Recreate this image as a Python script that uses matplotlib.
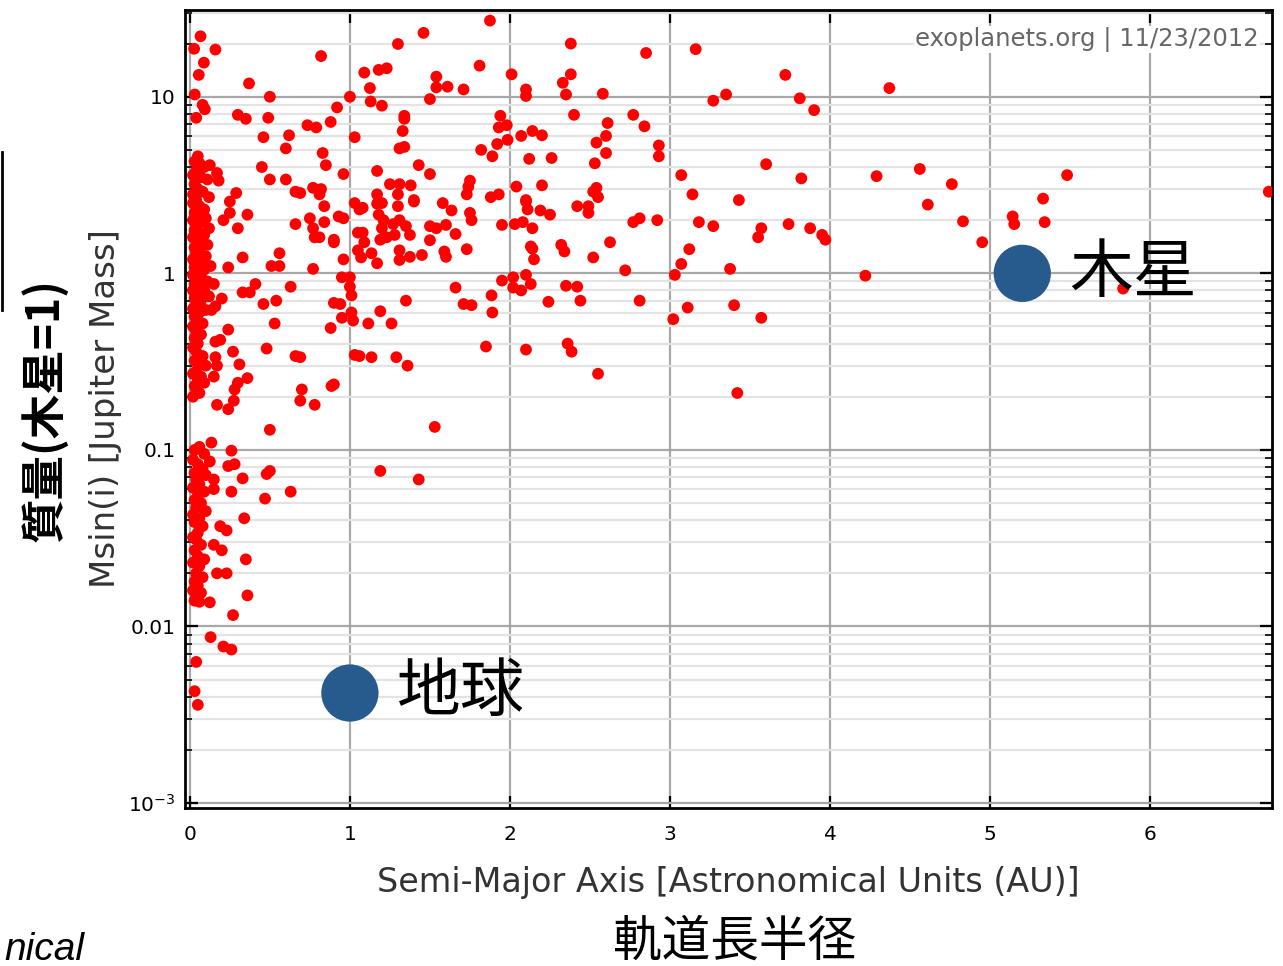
import numpy as np
import matplotlib.pyplot as plt
from matplotlib.lines import Line2D
from matplotlib.ticker import FixedLocator, LogLocator, NullFormatter

# Planets with a < 0.13 AU (the crowded column near the star)
inner_a = [0.05, 0.03, 0.06, 0.09, 0.04, 0.02, 0.07, 0.11, 0.03, 0.05, 0.08, 0.02, 0.12, 0.04,
           0.02, 0.06, 0.09, 0.03, 0.05, 0.10, 0.02, 0.07, 0.04, 0.12, 0.03, 0.06, 0.09, 0.02,
           0.05, 0.08, 0.11, 0.03, 0.06, 0.04, 0.10, 0.02, 0.07, 0.05, 0.03, 0.09, 0.13, 0.06,
           0.02, 0.04, 0.08, 0.11, 0.03, 0.06, 0.02, 0.09, 0.05, 0.12, 0.03, 0.07, 0.04, 0.02,
           0.10, 0.06, 0.03, 0.05, 0.08, 0.02, 0.04, 0.07, 0.03, 0.05, 0.02, 0.04, 0.08, 0.03,
           0.06, 0.10, 0.04, 0.02, 0.07, 0.05, 0.03, 0.09, 0.04, 0.06, 0.02,
           0.03, 0.06, 0.09, 0.02, 0.05, 0.08, 0.03, 0.10, 0.04, 0.06, 0.02, 0.09, 0.05, 0.03,
           0.07, 0.04, 0.10, 0.02, 0.06, 0.03, 0.08, 0.05, 0.02,
           0.04, 0.07, 0.03, 0.05, 0.09, 0.02, 0.06, 0.04, 0.08, 0.03, 0.05, 0.02, 0.07, 0.04,
           0.06, 0.03]
inner_m = [4.6, 4.3, 4.2, 4.0, 3.8, 3.6, 3.5, 3.4, 3.2, 3.0, 2.9, 2.8, 2.7, 2.6,
           2.5, 2.4, 2.3, 2.2, 2.1, 2.05, 2.0, 1.95, 1.85, 1.8, 1.75, 1.7, 1.65, 1.6,
           1.55, 1.5, 1.45, 1.4, 1.35, 1.3, 1.25, 1.2, 1.18, 1.12, 1.08, 1.05, 1.1, 1.0,
           0.98, 0.95, 0.92, 0.9, 0.87, 0.84, 0.8, 0.8, 0.76, 0.74, 0.72, 0.7, 0.66, 0.63,
           0.62, 0.6, 0.57, 0.54, 0.52, 0.5, 0.47, 0.45, 0.43, 0.4, 0.38, 0.36, 0.34, 0.32,
           0.31, 0.3, 0.28, 0.27, 0.26, 0.25, 0.23, 0.24, 0.22, 0.21, 0.2,
           0.1, 0.104, 0.095, 0.088, 0.083, 0.078, 0.074, 0.072, 0.068, 0.064, 0.061, 0.058,
           0.055, 0.052, 0.05, 0.047, 0.045, 0.043, 0.041, 0.039, 0.037, 0.034, 0.032,
           0.031, 0.029, 0.027, 0.025, 0.024, 0.023, 0.022, 0.02, 0.019, 0.018, 0.017, 0.016,
           0.0155, 0.0145, 0.0138, 0.014]

# Everything further out
outer_a = [0.067, 0.027, 0.16, 0.088, 0.056, 0.37, 0.82, 0.031, 0.50, 1.0, 0.08, 0.094, 0.04,
           0.30, 0.35, 0.49, 0.92, 0.88, 0.735, 0.79, 0.46, 0.62, 1.03, 0.60, 0.83, 0.85,
           0.125, 0.45, 0.17, 0.18, 0.50, 0.60, 0.96, 0.66, 0.69, 0.77, 0.82, 0.81, 0.29,
           0.25, 0.84, 1.03, 1.06, 0.25, 0.36, 0.21, 0.30, 0.66, 0.75, 0.84, 0.93, 0.96,
           0.77, 0.78, 0.81, 0.90, 0.90, 1.05, 1.05, 0.33, 0.56, 0.51, 0.56, 0.24, 0.77, 0.96,
           0.95, 1.0, 1.0, 1.01, 0.15, 0.33, 0.375, 0.41, 0.63, 0.20, 0.16, 0.135, 0.46,
           0.54, 0.90, 0.94, 0.95, 1.01, 1.02, 0.53, 0.88, 0.24, 0.16, 0.19, 0.27, 0.48,
           0.66, 0.69, 1.03, 0.16, 0.17, 0.31, 0.36, 0.30, 0.28, 0.275, 0.15, 0.70, 0.69,
           0.885, 0.90, 0.78, 0.17, 0.24, 0.50, 0.135, 0.26, 0.125, 0.24, 0.28, 0.33, 0.48,
           0.50, 0.26, 0.63, 0.47, 0.15, 0.15, 0.34, 0.23, 0.19,
           0.15, 0.20, 0.35, 0.17, 0.23, 0.36, 0.125, 0.27, 0.13, 0.21, 0.26, 0.04, 0.03, 0.05,
           1.875, 1.46, 1.30, 2.38, 2.85, 1.09, 1.18, 1.23, 1.81, 2.01, 2.38, 2.33, 2.35,
           1.125, 1.54, 1.54, 1.61, 1.71, 2.10, 2.10, 2.58, 1.50, 1.13, 1.20, 1.34, 1.34,
           1.33, 1.94, 1.98, 1.93, 2.40, 2.77, 2.84, 2.61, 2.60, 2.07, 2.14, 2.20, 1.985,
           1.92, 1.31, 1.34, 1.82, 1.89, 2.54, 2.60, 2.53, 2.93, 2.93, 2.12, 2.26, 1.17,
           1.43, 1.50, 3.07, 1.25, 1.31, 1.38, 1.75, 1.74, 1.73, 2.04, 2.20, 2.52, 2.54,
           2.55, 1.17, 1.30, 1.40, 1.88, 1.93, 2.10,
           1.08, 1.17, 1.20, 1.30, 1.40, 1.58, 1.635, 1.75, 1.76, 1.18, 1.21, 1.20, 1.27,
           1.31, 1.35, 1.375, 1.28, 1.23, 1.19, 1.08, 1.09, 1.135, 1.07, 1.17, 1.31, 1.31,
           1.375, 1.45, 1.50, 1.54, 1.60, 1.66, 1.50, 1.59, 1.60, 1.73, 1.95, 2.03, 2.08,
           2.14, 2.10, 2.11, 2.19, 2.25, 2.42, 2.49, 2.49, 2.13, 2.14, 2.15, 2.32, 2.34,
           2.52, 2.625, 2.77, 2.81, 2.92, 2.72, 3.03, 3.07, 3.12, 3.11, 1.95, 2.02, 2.10,
           2.13, 2.02, 2.07, 1.66, 1.885, 2.35, 2.42, 1.35, 1.71, 1.76, 2.24, 2.44, 2.81,
           1.89, 1.19, 1.115, 1.26, 3.02, 1.85, 2.10, 2.36, 2.385, 1.06, 1.135, 1.29, 1.36,
           2.55, 1.53, 1.19, 1.43,
           3.16, 3.72, 3.27, 3.35, 3.81, 3.90, 4.37, 3.14, 3.43, 3.60, 3.82, 4.29, 4.56,
           4.76, 4.61, 5.33, 5.48, 6.74,
           3.18, 3.27, 3.57, 3.55, 3.74, 3.875, 3.95, 3.97, 3.375, 4.22, 3.40, 3.57, 3.42,
           4.83, 4.95, 5.14, 5.15, 5.34, 5.83]
outer_m = [22, 18.7, 18.5, 15.6, 13.3, 11.9, 17, 10.3, 10, 10, 9.0, 8.5, 7.6,
           7.9, 7.5, 7.6, 8.7, 7.2, 6.9, 6.7, 5.9, 6.05, 5.9, 5.1, 4.8, 4.1,
           4.1, 4.0, 3.7, 3.35, 3.4, 3.4, 3.65, 2.9, 2.85, 3.05, 3.0, 2.8, 2.85,
           2.55, 2.4, 2.5, 2.3, 2.2, 2.15, 2.0, 1.8, 1.9, 2.05, 1.95, 2.1, 2.05,
           1.8, 1.6, 1.6, 1.55, 1.5, 1.7, 1.35, 1.23, 1.3, 1.1, 1.1, 1.08, 1.06, 1.2,
           0.95, 0.95, 0.84, 0.75, 0.87, 0.78, 0.78, 0.87, 0.84, 0.72, 0.65, 0.62, 0.67,
           0.70, 0.68, 0.67, 0.56, 0.60, 0.54, 0.52, 0.49, 0.48, 0.41, 0.42, 0.36, 0.375,
           0.34, 0.335, 0.345, 0.335, 0.30, 0.305, 0.255, 0.24, 0.22, 0.19, 0.26, 0.22, 0.19,
           0.23, 0.235, 0.18, 0.18, 0.17, 0.13, 0.11, 0.099, 0.086, 0.081, 0.083, 0.069, 0.073,
           0.076, 0.058, 0.058, 0.053, 0.068, 0.060, 0.041, 0.035, 0.037,
           0.029, 0.027, 0.024, 0.02, 0.02, 0.015, 0.0137, 0.0116, 0.0087, 0.0077, 0.0074,
           0.0063, 0.0043, 0.0036,
           27, 23, 19.9, 20, 17.7, 13.7, 14.2, 14.5, 15, 13.4, 13.4, 12, 10.3,
           11.2, 13, 11.3, 11.4, 11, 11, 10.1, 10.4, 9.7, 9.4, 8.9, 7.8, 7.5,
           6.4, 7.8, 6.9, 6.7, 7.9, 7.9, 6.8, 7.1, 6.0, 6.0, 6.4, 6.05, 5.7,
           5.4, 5.1, 5.2, 5.0, 4.6, 5.5, 4.8, 4.2, 5.3, 4.6, 4.45, 4.5, 3.8,
           4.1, 3.65, 3.6, 3.2, 3.2, 3.15, 3.35, 3.1, 2.8, 3.1, 3.15, 2.9, 3.05,
           2.7, 2.8, 2.8, 2.6, 2.7, 2.8, 2.6,
           2.35, 2.48, 2.5, 2.4, 2.55, 2.5, 2.27, 2.2, 2.0, 2.15, 2.0, 1.8, 1.9,
           2.0, 1.85, 1.65, 1.65, 1.6, 1.55, 1.7, 1.5, 1.3, 1.23, 1.14, 1.35, 1.19,
           1.24, 1.27, 1.85, 1.8, 1.88, 1.67, 1.54, 1.33, 1.24, 1.37, 1.88, 1.9, 1.95,
           1.8, 2.55, 2.3, 2.27, 2.15, 2.4, 2.4, 2.2, 1.42, 1.38, 1.2, 1.45, 1.33,
           1.23, 1.5, 1.95, 2.05, 2.0, 1.04, 0.98, 1.13, 1.37, 0.64, 0.91, 0.95, 0.98,
           0.87, 0.83, 0.80, 0.83, 0.75, 0.85, 0.84, 0.70, 0.67, 0.66, 0.69, 0.70, 0.70,
           0.60, 0.61, 0.52, 0.52, 0.55, 0.385, 0.37, 0.40, 0.36, 0.34, 0.335, 0.335, 0.30,
           0.27, 0.135, 0.076, 0.068,
           18.6, 13.3, 9.5, 10.3, 9.8, 8.4, 11.2, 2.8, 2.6, 4.15, 3.45, 3.55, 3.9,
           3.2, 2.45, 2.65, 3.6, 2.9,
           1.95, 1.85, 1.8, 1.6, 1.9, 1.8, 1.65, 1.55, 1.06, 0.97, 0.66, 0.56, 0.21,
           1.97, 1.5, 2.1, 1.9, 1.95, 0.82]

# Solar-system reference planets: (a [AU], M [Jupiter masses])
earth = (1.0, 0.0042)
jupiter = (5.2, 1.0)

fig = plt.figure(figsize=(12.83, 9.66), dpi=100)
ax = fig.add_axes([185 / 1283, 1 - 808 / 966, (1272 - 185) / 1283, (808 - 10) / 966])

ax.scatter(inner_a + outer_a, inner_m + outer_m, s=72, color='#ff0000',
           edgecolors='none', zorder=3)

ax.set_yscale('log')
ax.set_xlim(-0.03, 6.76)
ax.set_ylim(10 ** -3.028, 31)

ax.xaxis.set_major_locator(FixedLocator([0, 1, 2, 3, 4, 5, 6]))
ax.yaxis.set_major_locator(FixedLocator([1e-3, 1e-2, 1e-1, 1, 10]))
ax.yaxis.set_minor_locator(LogLocator(base=10, subs=np.arange(2, 10)))
ax.yaxis.set_minor_formatter(NullFormatter())
ax.set_yticklabels([r'$\mathregular{10^{-3}}$', '0.01', '0.1', '1', '10'])

ax.grid(True, which='major', color='#a8a8a8', lw=1.6, zorder=0)
ax.grid(True, which='minor', axis='y', color='#e3e3e3', lw=1.6, zorder=0)
ax.set_axisbelow(True)

ax.tick_params(which='both', direction='in', top=True, right=True,
               labelsize=14.5, colors='black')
ax.tick_params(axis='x', pad=12)
ax.tick_params(axis='y', pad=7)
ax.tick_params(which='major', length=9, width=1.6)
ax.tick_params(which='minor', length=5, width=1.2)
for sp in ax.spines.values():
    sp.set_linewidth(2)
    sp.set_color('black')

ax.set_xlabel('Semi-Major Axis [Astronomical Units (AU)]', fontsize=24,
              color='#333333', labelpad=16)
ax.set_ylabel('Msin(i) [Jupiter Mass]', fontsize=24.5, color='#333333', labelpad=4)

ax.text(0.988, 0.963, 'exoplanets.org | 11/23/2012', transform=ax.transAxes,
        ha='right', va='center', fontsize=17.5, color='#666666', zorder=4,
        bbox=dict(facecolor='white', edgecolor='none', pad=1))

# Earth and Jupiter markers with Japanese labels
jp = ['Noto Sans CJK JP', 'DejaVu Sans']
ax.scatter([earth[0], jupiter[0]], [earth[1], jupiter[1]], s=1700,
           color='#285b8d', edgecolors='none', zorder=5)
ax.annotate('地球', earth, xytext=(34, 0), textcoords='offset points',
            ha='left', va='center', fontsize=46, family=jp, zorder=6)
ax.annotate('木星', jupiter, xytext=(34, 0), textcoords='offset points',
            ha='left', va='center', fontsize=46, family=jp, zorder=6)

fig.text(45 / 1283, 1 - 410 / 966, '質量(木星=1)', rotation=90, ha='center',
         va='center', fontsize=32, family=jp, weight='bold')
fig.text(735 / 1283, 1 - 942 / 966, '軌道長半径', ha='center', va='center',
         fontsize=35, family=jp)
fig.text(4 / 1283, 1 - 960 / 966, 'nical', ha='left', va='baseline',
         fontsize=28, style='italic', family=['Liberation Sans', 'DejaVu Sans'])
fig.add_artist(Line2D([1.5 / 1283, 1.5 / 1283], [1 - 152 / 966, 1 - 310 / 966],
                      transform=fig.transFigure, color='black', lw=2))

fig.savefig('out.png', dpi=100)
